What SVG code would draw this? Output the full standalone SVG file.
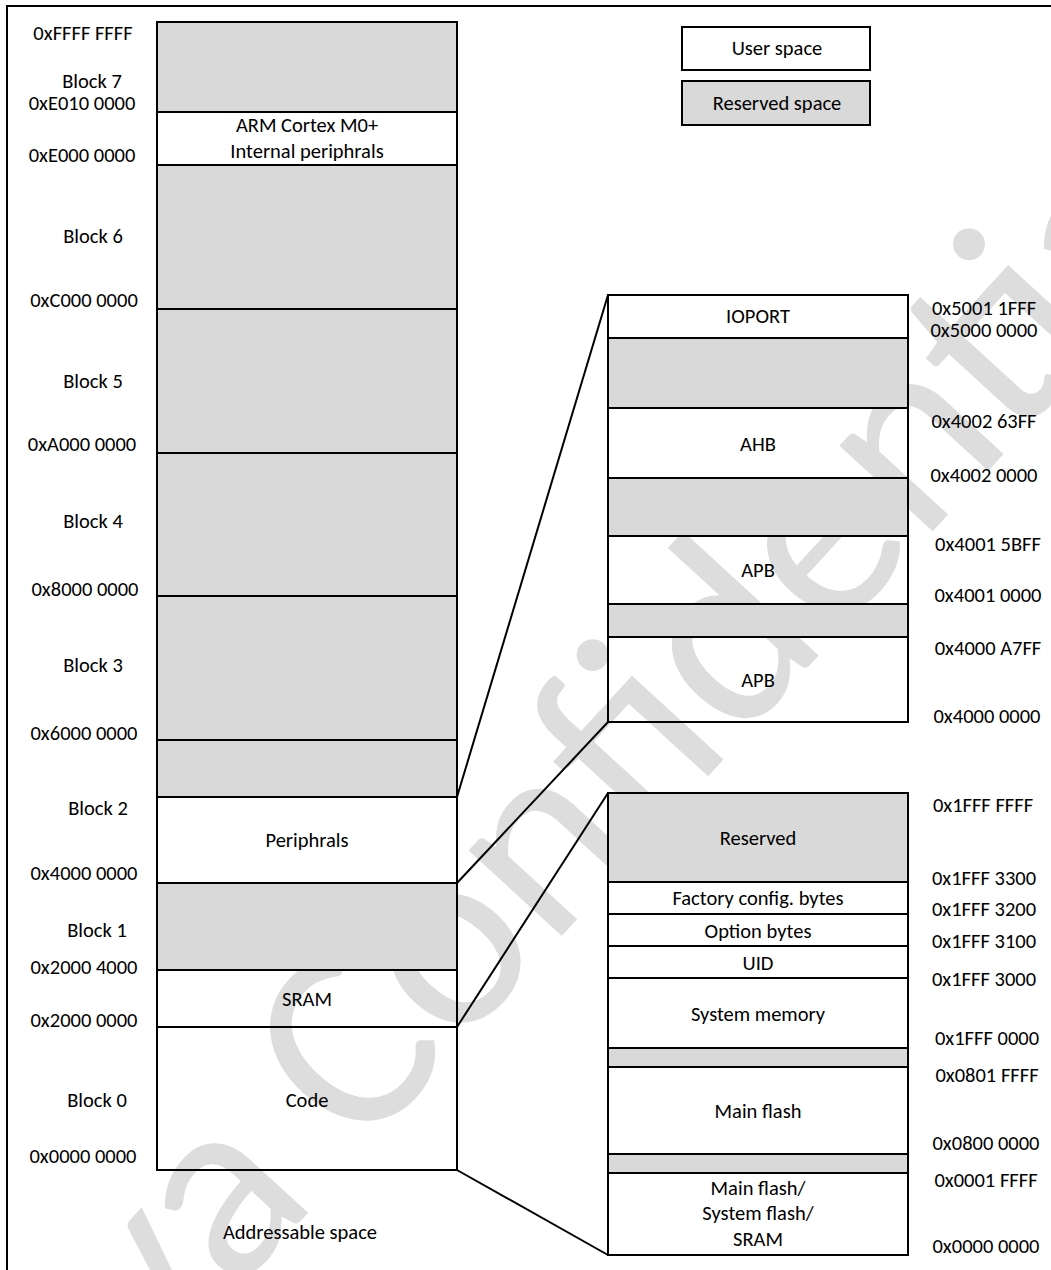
<svg xmlns="http://www.w3.org/2000/svg" width="1051" height="1270" viewBox="0 0 1051 1270">
<style>
text{font-family:Carlito,Lato,"Liberation Sans",sans-serif;font-size:20.5px;fill:#000}
.c{text-anchor:middle}
.u{fill:none;stroke:#000;stroke-width:2}
.r{fill:#d9d9d9;stroke:#000;stroke-width:2}
.wm{font-size:265px;fill:#dddddd;text-anchor:middle}
.ln{stroke:#000;stroke-width:2;fill:none}
</style>
<rect x="0" y="0" width="1051" height="1270" fill="#fff"/>
<text class="wm" transform="translate(604,890) rotate(-47.5)">Puya Confidential</text>
<rect x="7" y="6" width="1100" height="1300" fill="none" stroke="#000" stroke-width="2"/>
<g id="legend-user"><rect class="u" x="682" y="27" width="188" height="43"/><text class="c" x="777" y="55">User space</text></g>
<g id="legend-reserved"><rect class="r" x="682" y="81" width="188" height="44"/><text class="c" x="777" y="110">Reserved space</text></g>
<g id="blk7"><rect class="r" x="157" y="22" width="300" height="90"/></g>
<g id="arm"><rect class="u" x="157" y="112" width="300" height="53"/><text class="c" x="307" y="132">ARM Cortex M0+</text><text class="c" x="307" y="158">Internal periphrals</text></g>
<g id="blk6"><rect class="r" x="157" y="165" width="300" height="144"/></g>
<g id="blk5"><rect class="r" x="157" y="309" width="300" height="144"/></g>
<g id="blk4"><rect class="r" x="157" y="453" width="300" height="143"/></g>
<g id="blk3"><rect class="r" x="157" y="596" width="300" height="144"/></g>
<g id="blk2-res"><rect class="r" x="157" y="740" width="300" height="57"/></g>
<g id="periph"><rect class="u" x="157" y="797" width="300" height="86"/><text class="c" x="307" y="847">Periphrals</text></g>
<g id="blk1"><rect class="r" x="157" y="883" width="300" height="87"/></g>
<g id="sram"><rect class="u" x="157" y="970" width="300" height="57"/><text class="c" x="307" y="1006">SRAM</text></g>
<g id="code"><rect class="u" x="157" y="1027" width="300" height="143"/><text class="c" x="307" y="1107">Code</text></g>
<g id="left-labels">
<text class="c" x="83" y="40">0xFFFF FFFF</text>
<text class="c" x="92" y="88">Block 7</text>
<text class="c" x="82" y="110">0xE010 0000</text>
<text class="c" x="82" y="162">0xE000 0000</text>
<text class="c" x="93" y="243">Block 6</text>
<text class="c" x="84" y="307">0xC000 0000</text>
<text class="c" x="93" y="388">Block 5</text>
<text class="c" x="82" y="451">0xA000 0000</text>
<text class="c" x="93" y="528">Block 4</text>
<text class="c" x="85" y="596">0x8000 0000</text>
<text class="c" x="93" y="672">Block 3</text>
<text class="c" x="84" y="740">0x6000 0000</text>
<text class="c" x="98" y="815">Block 2</text>
<text class="c" x="84" y="880">0x4000 0000</text>
<text class="c" x="97" y="937">Block 1</text>
<text class="c" x="84" y="974">0x2000 4000</text>
<text class="c" x="84" y="1027">0x2000 0000</text>
<text class="c" x="97" y="1107">Block 0</text>
<text class="c" x="83" y="1163">0x0000 0000</text>
<text class="c" x="300" y="1239">Addressable space</text>
</g>
<g id="ioport"><rect class="u" x="608" y="295" width="300" height="43"/><text class="c" x="758" y="323">IOPORT</text></g>
<g id="p-res1"><rect class="r" x="608" y="338" width="300" height="70"/></g>
<g id="ahb"><rect class="u" x="608" y="408" width="300" height="70"/><text class="c" x="758" y="451">AHB</text></g>
<g id="p-res2"><rect class="r" x="608" y="478" width="300" height="58"/></g>
<g id="apb1"><rect class="u" x="608" y="536" width="300" height="68"/><text class="c" x="758" y="577">APB</text></g>
<g id="p-res3"><rect class="r" x="608" y="604" width="300" height="33"/></g>
<g id="apb2"><rect class="u" x="608" y="637" width="300" height="85"/><text class="c" x="758" y="687">APB</text></g>
<g id="periph-labels">
<text class="c" x="984" y="315">0x5001 1FFF</text>
<text class="c" x="984" y="337">0x5000 0000</text>
<text class="c" x="984" y="428">0x4002 63FF</text>
<text class="c" x="984" y="482">0x4002 0000</text>
<text class="c" x="988" y="551">0x4001 5BFF</text>
<text class="c" x="988" y="602">0x4001 0000</text>
<text class="c" x="988" y="655">0x4000 A7FF</text>
<text class="c" x="987" y="723">0x4000 0000</text>
</g>
<g id="reserved"><rect class="r" x="608" y="793" width="300" height="89"/><text class="c" x="758" y="845">Reserved</text></g>
<g id="factory"><rect class="u" x="608" y="882" width="300" height="32"/><text class="c" x="758" y="905">Factory config. bytes</text></g>
<g id="option"><rect class="u" x="608" y="914" width="300" height="32"/><text class="c" x="758" y="938">Option bytes</text></g>
<g id="uid"><rect class="u" x="608" y="946" width="300" height="32"/><text class="c" x="758" y="970">UID</text></g>
<g id="sysmem"><rect class="u" x="608" y="978" width="300" height="70"/><text class="c" x="758" y="1021">System memory</text></g>
<g id="c-res1"><rect class="r" x="608" y="1048" width="300" height="19"/></g>
<g id="mainflash"><rect class="u" x="608" y="1067" width="300" height="87"/><text class="c" x="758" y="1118">Main flash</text></g>
<g id="c-res2"><rect class="r" x="608" y="1154" width="300" height="19"/></g>
<g id="boot"><rect class="u" x="608" y="1173" width="300" height="82"/><text class="c" x="758" y="1195">Main flash/</text><text class="c" x="758" y="1220">System flash/</text><text class="c" x="758" y="1246">SRAM</text></g>
<g id="code-labels">
<text class="c" x="983" y="812">0x1FFF FFFF</text>
<text class="c" x="984" y="885">0x1FFF 3300</text>
<text class="c" x="984" y="916">0x1FFF 3200</text>
<text class="c" x="984" y="948">0x1FFF 3100</text>
<text class="c" x="984" y="986">0x1FFF 3000</text>
<text class="c" x="987" y="1045">0x1FFF 0000</text>
<text class="c" x="987" y="1082">0x0801 FFFF</text>
<text class="c" x="986" y="1150">0x0800 0000</text>
<text class="c" x="986" y="1187">0x0001 FFFF</text>
<text class="c" x="986" y="1253">0x0000 0000</text>
</g>
<g id="connectors">
<line class="ln" x1="457" y1="797" x2="608" y2="295"/>
<line class="ln" x1="457" y1="883" x2="608" y2="722"/>
<line class="ln" x1="457" y1="1027" x2="608" y2="793"/>
<line class="ln" x1="457" y1="1170" x2="608" y2="1255"/>
</g>
</svg>
